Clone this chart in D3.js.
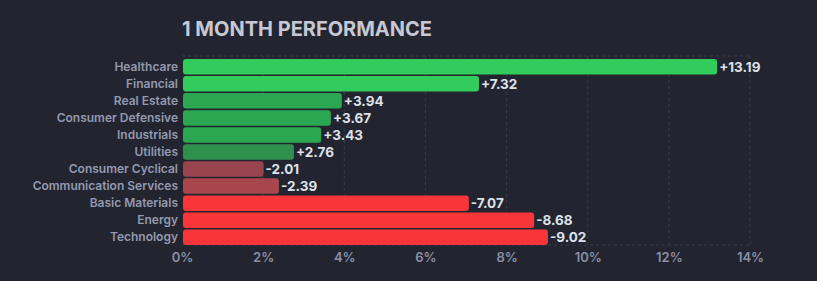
<!DOCTYPE html>
<html>
<head>
<meta charset="utf-8">
<script src="https://cdn.jsdelivr.net/npm/d3@7"></script>
<style>
  html, body { margin: 0; padding: 0; background: #22252f; }
  svg { display: block; }
</style>
</head>
<body>
<svg id="chart"></svg>
<script>
// data
var sectors = ["Healthcare", "Financial", "Real Estate", "Consumer Defensive", "Industrials",
               "Utilities", "Consumer Cyclical", "Communication Services", "Basic Materials",
               "Energy", "Technology"];
var changes = [13.19, 7.32, 3.94, 3.67, 3.43, 2.76, -2.01, -2.39, -7.07, -8.68, -9.02];
var barColors = ["#31cc5b", "#31cc5b", "#2ba651", "#2ba651", "#2ba651", "#2f904e",
                 "#9a4450", "#a8464e", "#f8363a", "#f8363a", "#f8363a"];
var xTicks = [0, 2, 4, 6, 8, 10, 12, 14];

var W = 817, H = 281,
    margin = {top: 56, right: 67, bottom: 36, left: 182},
    width = W - margin.left - margin.right,
    height = H - margin.top - margin.bottom;

var svg = d3.select("#chart").attr("width", W).attr("height", H);

svg.append("text")
    .attr("x", 182).attr("y", 36)
    .attr("fill", "#c6c8d4")
    .attr("font-family", "Inter, 'Open Sans', sans-serif")
    .attr("font-weight", 700)
    .attr("font-size", "20px")
    .text("1 MONTH PERFORMANCE");

var g = svg.append("g").attr("transform", "translate(" + margin.left + "," + margin.top + ")");

var x = d3.scaleLinear().domain([0, 14]).range([0, width]);
var y = d3.scaleBand().domain(sectors).range([3, height]).paddingInner(0.09).paddingOuter(0);

// grid
g.selectAll("line.grid")
    .data(xTicks.slice(1))
    .enter().append("line")
    .attr("class", "grid")
    .attr("x1", function(d) { return x(d); }).attr("x2", function(d) { return x(d); })
    .attr("y1", 0).attr("y2", height)
    .attr("stroke", "#383c4a")
    .attr("stroke-dasharray", "3,3");

g.append("line")
    .attr("x1", 0).attr("x2", width).attr("y1", 0).attr("y2", 0)
    .attr("stroke", "#383c4a").attr("stroke-dasharray", "3,3");
g.append("line")
    .attr("x1", 0).attr("x2", width).attr("y1", height).attr("y2", height)
    .attr("stroke", "#383c4a").attr("stroke-dasharray", "3,3");

// x axis
var xAxis = g.append("g")
    .attr("transform", "translate(0," + height + ")")
    .call(d3.axisBottom(x).tickValues(xTicks).tickSize(0).tickPadding(8)
          .tickFormat(function(d) { return d + "%"; }));
xAxis.select(".domain").remove();
xAxis.selectAll("text")
    .attr("fill", "#8a8fa6")
    .attr("font-family", "Inter, 'Open Sans', sans-serif")
    .attr("font-weight", 600)
    .attr("font-size", "13px");

// y axis
var yAxis = g.append("g")
    .call(d3.axisLeft(y).tickSize(0).tickPadding(4));
yAxis.select(".domain").remove();
yAxis.selectAll("text")
    .attr("fill", "#9499b0")
    .attr("font-family", "Inter, 'Open Sans', sans-serif")
    .attr("font-weight", 600)
    .attr("font-size", "12px");

var rows = sectors.map(function(s, i) { return {name: s, value: changes[i], color: barColors[i]}; });

g.selectAll("rect.bar")
    .data(rows)
    .enter().append("rect")
    .attr("class", "bar")
    .attr("x", x(0) + 1)
    .attr("y", function(d) { return y(d.name); })
    .attr("width", function(d) { return x(Math.abs(d.value)) - x(0) - 1; })
    .attr("height", y.bandwidth())
    .attr("rx", 3).attr("ry", 3)
    .attr("fill", function(d) { return d.color; });

g.selectAll("text.val")
    .data(rows)
    .enter().append("text")
    .attr("class", "val")
    .attr("x", function(d) { return x(Math.abs(d.value)) + 2; })
    .attr("y", function(d) { return y(d.name) + y.bandwidth() / 2; })
    .attr("dy", "0.36em")
    .attr("fill", "#dfe1ea")
    .attr("font-family", "Inter, 'Open Sans', sans-serif")
    .attr("font-weight", 700)
    .attr("font-size", "13.5px")
    .text(function(d) { return (d.value > 0 ? "+" : "-") + Math.abs(d.value).toFixed(2); });
</script>
</body>
</html>
